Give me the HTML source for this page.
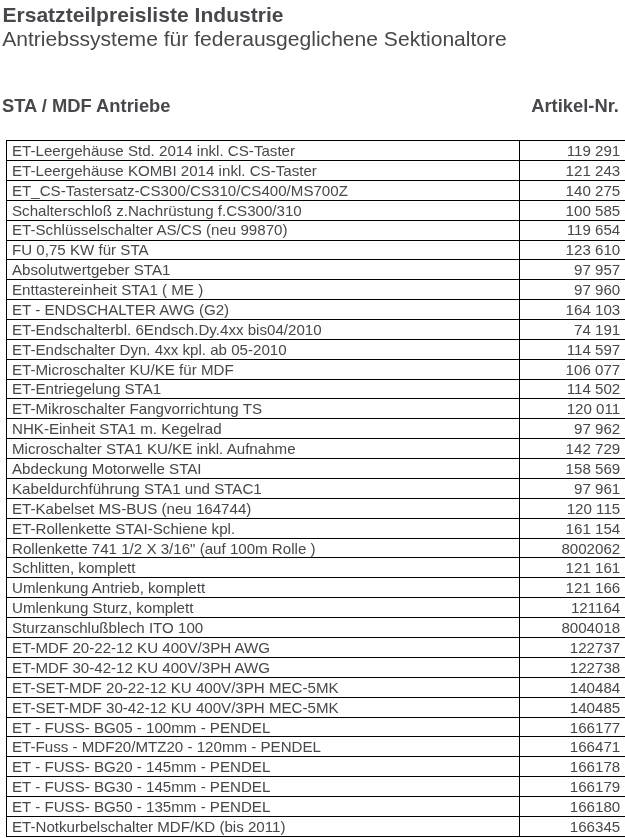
<!DOCTYPE html>
<html lang="de"><head><meta charset="utf-8"><title>Ersatzteilpreisliste Industrie</title>
<style>
html,body{margin:0;padding:0;background:#fff;}
body{width:625px;height:838px;position:relative;overflow:hidden;font-family:"Liberation Sans",sans-serif;color:#48484c;}
.t{position:absolute;white-space:nowrap;line-height:1;}
.c1,.c2{line-height:20px;height:20px;}
.h1{left:2.4px;top:4px;font-size:21.08px;font-weight:bold;}
.h2{left:2.2px;top:28px;font-size:21.07px;}
.h3{left:2.0px;top:97px;font-size:18.35px;font-weight:bold;}
.h4{left:531.2px;top:97px;font-size:18.35px;font-weight:bold;}
.hl{position:absolute;left:6px;width:619px;height:1px;background:#000;}
.vl{position:absolute;width:1px;background:#000;}
.c1{left:12px;font-size:15.12px;}
.c2{right:4.8px;font-size:15.12px;text-align:right;}
</style></head><body>
<div class="t h1">Ersatzteilpreisliste Industrie</div>
<div class="t h2">Antriebssysteme für federausgeglichene Sektionaltore</div>
<div class="t h3">STA / MDF Antriebe</div>
<div class="t h4">Artikel-Nr.</div>

<div class="hl" style="top:140px"></div>
<div class="hl" style="top:160px"></div>
<div class="hl" style="top:180px"></div>
<div class="hl" style="top:200px"></div>
<div class="hl" style="top:220px"></div>
<div class="hl" style="top:240px"></div>
<div class="hl" style="top:259px"></div>
<div class="hl" style="top:279px"></div>
<div class="hl" style="top:299px"></div>
<div class="hl" style="top:319px"></div>
<div class="hl" style="top:339px"></div>
<div class="hl" style="top:359px"></div>
<div class="hl" style="top:379px"></div>
<div class="hl" style="top:398px"></div>
<div class="hl" style="top:418px"></div>
<div class="hl" style="top:438px"></div>
<div class="hl" style="top:458px"></div>
<div class="hl" style="top:478px"></div>
<div class="hl" style="top:498px"></div>
<div class="hl" style="top:518px"></div>
<div class="hl" style="top:538px"></div>
<div class="hl" style="top:557px"></div>
<div class="hl" style="top:577px"></div>
<div class="hl" style="top:597px"></div>
<div class="hl" style="top:617px"></div>
<div class="hl" style="top:637px"></div>
<div class="hl" style="top:657px"></div>
<div class="hl" style="top:677px"></div>
<div class="hl" style="top:697px"></div>
<div class="hl" style="top:717px"></div>
<div class="hl" style="top:736px"></div>
<div class="hl" style="top:756px"></div>
<div class="hl" style="top:776px"></div>
<div class="hl" style="top:796px"></div>
<div class="hl" style="top:816px"></div>
<div class="hl" style="top:836px"></div>
<div class="vl" style="left:6px;top:140px;height:697px"></div>
<div class="vl" style="left:519px;top:140px;height:697px"></div>
<div class="t c1" style="top:141px">ET-Leergehäuse Std. 2014 inkl. CS-Taster</div><div class="t c2" style="top:141px">119 291</div>
<div class="t c1" style="top:161px">ET-Leergehäuse KOMBI 2014 inkl. CS-Taster</div><div class="t c2" style="top:161px">121 243</div>
<div class="t c1" style="top:181px">ET_CS-Tastersatz-CS300/CS310/CS400/MS700Z</div><div class="t c2" style="top:181px">140 275</div>
<div class="t c1" style="top:201px">Schalterschloß z.Nachrüstung f.CS300/310</div><div class="t c2" style="top:201px">100 585</div>
<div class="t c1" style="top:220px">ET-Schlüsselschalter AS/CS (neu 99870)</div><div class="t c2" style="top:220px">119 654</div>
<div class="t c1" style="top:240px">FU 0,75 KW für STA</div><div class="t c2" style="top:240px">123 610</div>
<div class="t c1" style="top:260px">Absolutwertgeber STA1</div><div class="t c2" style="top:260px">97 957</div>
<div class="t c1" style="top:280px">Enttastereinheit STA1 ( ME )</div><div class="t c2" style="top:280px">97 960</div>
<div class="t c1" style="top:300px">ET - ENDSCHALTER AWG (G2)</div><div class="t c2" style="top:300px">164 103</div>
<div class="t c1" style="top:320px">ET-Endschalterbl. 6Endsch.Dy.4xx bis04/2010</div><div class="t c2" style="top:320px">74 191</div>
<div class="t c1" style="top:340px">ET-Endschalter Dyn. 4xx kpl. ab 05-2010</div><div class="t c2" style="top:340px">114 597</div>
<div class="t c1" style="top:360px">ET-Microschalter KU/KE für MDF</div><div class="t c2" style="top:360px">106 077</div>
<div class="t c1" style="top:379px">ET-Entriegelung STA1</div><div class="t c2" style="top:379px">114 502</div>
<div class="t c1" style="top:399px">ET-Mikroschalter Fangvorrichtung TS</div><div class="t c2" style="top:399px">120 011</div>
<div class="t c1" style="top:419px">NHK-Einheit STA1 m. Kegelrad</div><div class="t c2" style="top:419px">97 962</div>
<div class="t c1" style="top:439px">Microschalter STA1 KU/KE inkl. Aufnahme</div><div class="t c2" style="top:439px">142 729</div>
<div class="t c1" style="top:459px">Abdeckung Motorwelle STAI</div><div class="t c2" style="top:459px">158 569</div>
<div class="t c1" style="top:479px">Kabeldurchführung STA1 und STAC1</div><div class="t c2" style="top:479px">97 961</div>
<div class="t c1" style="top:499px">ET-Kabelset MS-BUS (neu 164744)</div><div class="t c2" style="top:499px">120 115</div>
<div class="t c1" style="top:519px">ET-Rollenkette STAI-Schiene kpl.</div><div class="t c2" style="top:519px">161 154</div>
<div class="t c1" style="top:539px">Rollenkette 741 1/2 X 3/16&quot; (auf 100m Rolle )</div><div class="t c2" style="top:539px">8002062</div>
<div class="t c1" style="top:558px">Schlitten, komplett</div><div class="t c2" style="top:558px">121 161</div>
<div class="t c1" style="top:578px">Umlenkung Antrieb, komplett</div><div class="t c2" style="top:578px">121 166</div>
<div class="t c1" style="top:598px">Umlenkung Sturz, komplett</div><div class="t c2" style="top:598px">121164</div>
<div class="t c1" style="top:618px">Sturzanschlußblech ITO 100</div><div class="t c2" style="top:618px">8004018</div>
<div class="t c1" style="top:638px">ET-MDF 20-22-12 KU 400V/3PH AWG</div><div class="t c2" style="top:638px">122737</div>
<div class="t c1" style="top:658px">ET-MDF 30-42-12 KU 400V/3PH AWG</div><div class="t c2" style="top:658px">122738</div>
<div class="t c1" style="top:678px">ET-SET-MDF 20-22-12 KU 400V/3PH MEC-5MK</div><div class="t c2" style="top:678px">140484</div>
<div class="t c1" style="top:698px">ET-SET-MDF 30-42-12 KU 400V/3PH MEC-5MK</div><div class="t c2" style="top:698px">140485</div>
<div class="t c1" style="top:718px">ET - FUSS- BG05 - 100mm - PENDEL</div><div class="t c2" style="top:718px">166177</div>
<div class="t c1" style="top:737px">ET-Fuss - MDF20/MTZ20 - 120mm - PENDEL</div><div class="t c2" style="top:737px">166471</div>
<div class="t c1" style="top:757px">ET - FUSS- BG20 - 145mm - PENDEL</div><div class="t c2" style="top:757px">166178</div>
<div class="t c1" style="top:777px">ET - FUSS- BG30 - 145mm - PENDEL</div><div class="t c2" style="top:777px">166179</div>
<div class="t c1" style="top:797px">ET - FUSS- BG50 - 135mm - PENDEL</div><div class="t c2" style="top:797px">166180</div>
<div class="t c1" style="top:817px">ET-Notkurbelschalter MDF/KD (bis 2011)</div><div class="t c2" style="top:817px">166345</div>
</body></html>
